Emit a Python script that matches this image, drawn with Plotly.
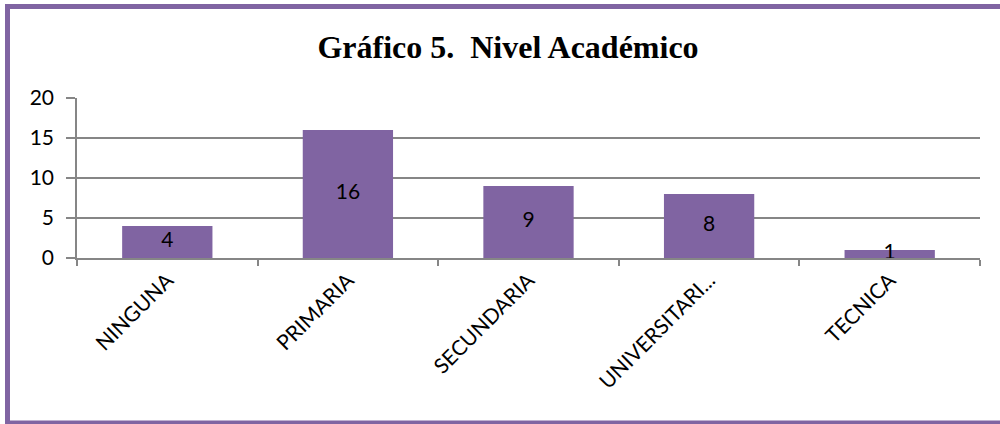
import plotly.graph_objects as go

categories = ["NINGUNA", "PRIMARIA", "SECUNDARIA", "UNIVERSITARI...", "TECNICA"]
values = [4, 16, 9, 8, 1]
y_ticks = [0, 5, 10, 15, 20]
title_text = "<b>Gráfico 5.  Nivel Académico</b>"

purple = "#8064A2"
grid = "#868686"
sans = "Lato, Carlito, Calibri, sans-serif"

fig = go.Figure()
fig.add_trace(go.Bar(
    x=categories, y=values, marker=dict(color=purple, line=dict(width=0)),
    width=0.5, showlegend=False, hoverinfo="x+y",
))
fig.add_trace(go.Scatter(
    x=categories, y=[v / 2 for v in values], mode="text",
    text=[str(v) for v in values], textposition="middle center",
    textfont=dict(family=sans, size=21, color="#000000"),
    showlegend=False, hoverinfo="skip",
))

fig.update_layout(
    width=1000, height=424,
    margin=dict(l=77, r=20, t=98, b=166, autoexpand=False),
    paper_bgcolor="white", plot_bgcolor="white",
    title=dict(text=title_text, x=0.508, xanchor="center", y=1 - 47 / 424, yanchor="middle",
               font=dict(family="Liberation Serif, Times New Roman, serif", size=32, color="#000000")),
    bargap=0.5,
    shapes=[dict(type="rect", xref="paper", yref="paper",
                 x0=-69.5 / 903, x1=(1003 - 77) / 903,
                 y0=-(423 - 258) / 160, y1=1 + (98 - 6.5) / 160,
                 line=dict(color=purple, width=5), fillcolor="rgba(0,0,0,0)", layer="below")],
)
fig.update_xaxes(
    type="category", showgrid=False, showline=True, linecolor=grid, linewidth=1.5,
    ticks="outside", tickson="boundaries", ticklen=6, tickcolor=grid, tickwidth=1.5,
    tickangle=-45, tickfont=dict(family=sans, size=21, color="#000000"),
    range=[-0.5, 4.5],
)
fig.update_yaxes(
    range=[0, 20], tickvals=y_ticks, showgrid=True, gridcolor=grid, gridwidth=1.5,
    showline=True, linecolor=grid, linewidth=1.5, ticks="outside", ticklen=9,
    tickcolor=grid, tickwidth=1.5, zeroline=False, ticklabelstandoff=8,
    tickfont=dict(family=sans, size=21, color="#000000"),
)

fig.write_html("out.html", config={"displayModeBar": False},
               post_script="document.body.style.margin='0';document.body.style.overflow='hidden';")
